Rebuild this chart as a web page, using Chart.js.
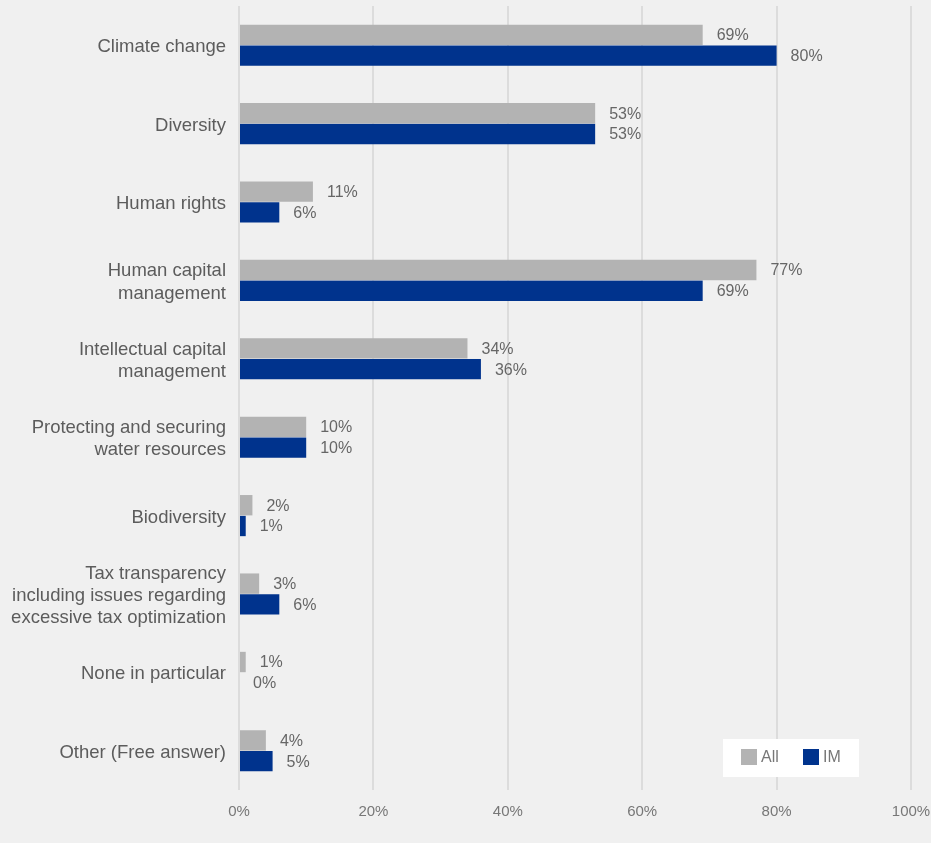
<!DOCTYPE html>
<html>
<head>
<meta charset="utf-8">
<script src="https://cdn.jsdelivr.net/npm/chart.js@4"></script>
<style>
    body { margin: 0; background: #f0f0f0; }
    canvas { display: block; }
</style>
</head>
<body>
<canvas id="topicsChart" width="931" height="843"></canvas>
<script>
const categories = [
    'Climate change',
    'Diversity',
    'Human rights',
    ['Human capital', 'management'],
    ['Intellectual capital', 'management'],
    ['Protecting and securing', 'water resources'],
    'Biodiversity',
    ['Tax transparency', 'including issues regarding', 'excessive tax optimization'],
    'None in particular',
    'Other (Free answer)'
];
const allValues = [69, 53, 11, 77, 34, 10, 2, 3, 1, 4];
const imValues = [80, 53, 6, 69, 36, 10, 1, 6, 0, 5];
const xTicks = [0, 20, 40, 60, 80, 100];

const FONT = '"Liberation Sans", Arial, sans-serif';

// value text just past the end of each bar
const barLabels = {
    id: 'barLabels',
    afterDatasetsDraw(chart) {
        const ctx = chart.ctx;
        ctx.save();
        ctx.font = '16px ' + FONT;
        ctx.fillStyle = '#666666';
        ctx.textAlign = 'left';
        ctx.textBaseline = 'middle';
        chart.data.datasets.forEach((ds, i) => {
            chart.getDatasetMeta(i).data.forEach((bar, j) => {
                ctx.fillText(ds.data[j] + '%', bar.x + 14, bar.y + 1);
            });
        });
        ctx.restore();
    }
};

// white legend box in the lower right of the plot
const boxLegend = {
    id: 'boxLegend',
    afterDraw(chart) {
        const ctx = chart.ctx;
        const area = chart.chartArea;
        const x = area.right - 188, y = area.bottom - 51;
        ctx.save();
        ctx.fillStyle = '#ffffff';
        ctx.fillRect(x, y, 136, 38);
        ctx.font = '16px ' + FONT;
        ctx.textBaseline = 'middle';
        let cx = x + 18;
        chart.data.datasets.forEach(ds => {
            ctx.fillStyle = ds.backgroundColor;
            ctx.fillRect(cx, y + 10, 16, 16);
            ctx.fillStyle = '#777777';
            ctx.fillText(ds.label, cx + 20, y + 19);
            cx += 62;
        });
        ctx.restore();
    }
};

new Chart(document.getElementById('topicsChart'), {
    type: 'bar',
    data: {
        labels: categories,
        datasets: [
            { label: 'All', data: allValues, backgroundColor: '#b3b3b3' },
            { label: 'IM', data: imValues, backgroundColor: '#00338d' }
        ]
    },
    options: {
        indexAxis: 'y',
        responsive: false,
        animation: false,
        layout: { padding: { top: 6, right: 20, left: 0, bottom: 0 } },
        datasets: { bar: { barPercentage: 0.98, categoryPercentage: 0.53 } },
        scales: {
            x: {
                min: 0,
                max: 100,
                afterBuildTicks: scale => { scale.ticks = xTicks.map(v => ({ value: v })); },
                afterFit: scale => {
                    scale.height = 53;
                    scale.paddingLeft = 0;
                    scale.paddingRight = 0;
                },
                border: { display: false },
                grid: { color: '#dcdcdc', lineWidth: 2, drawTicks: false },
                ticks: {
                    padding: 13,
                    color: '#777777',
                    font: { family: FONT, size: 15 },
                    callback: v => v + '%'
                }
            },
            y: {
                afterFit: scale => {
                    scale.width = 239;
                    scale.paddingTop = 0;
                    scale.paddingBottom = 0;
                },
                border: { display: false },
                grid: { display: false, drawTicks: false },
                ticks: {
                    padding: 13,
                    labelOffset: 2,
                    color: '#5c5c5c',
                    font: { family: FONT, size: 18.5, lineHeight: 1.2 }
                }
            }
        },
        plugins: {
            legend: { display: false },
            tooltip: { enabled: false }
        }
    },
    plugins: [barLabels, boxLegend]
});
</script>
</body>
</html>
